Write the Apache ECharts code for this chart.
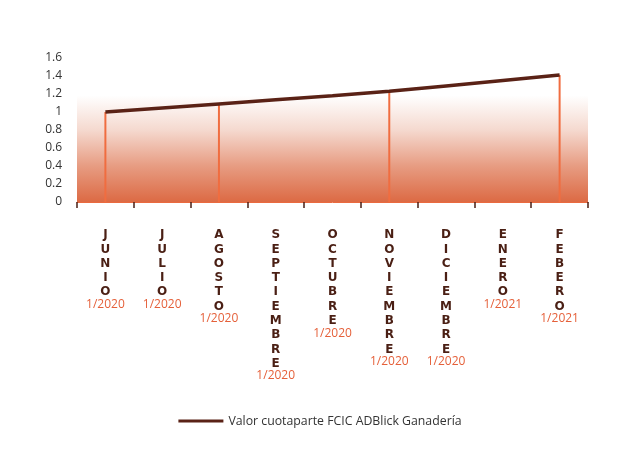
<!DOCTYPE html>
<html>
<head>
<meta charset="utf-8">
<script src="https://cdn.jsdelivr.net/npm/echarts@6/dist/echarts.min.js"></script>
<style>
html,body{margin:0;padding:0;background:#fff;}
#chart{width:640px;height:468px;}
</style>
</head>
<body>
<div id="chart"></div>
<script>
var months = ['JUNIO','JULIO','AGOSTO','SEPTIEMBRE','OCTUBRE','NOVIEMBRE','DICIEMBRE','ENERO','FEBERO'];
var periods = ['1/2020','1/2020','1/2020','1/2020','1/2020','1/2020','1/2020','1/2021','1/2021'];
var values = [1.00, 1.045, 1.09, 1.135, 1.18, 1.23, 1.29, 1.35, 1.41];
var dropCategories = ['JUNIO','AGOSTO','NOVIEMBRE','FEBERO'];
var seriesName = 'Valor cuotaparte FCIC ADBlick Ganadería';

var dropData = months.map(function (m, i) {
  return dropCategories.indexOf(m) >= 0 ? values[i] : null;
});

var chart = echarts.init(document.getElementById('chart'));
chart.setOption({
  animation: false,
  grid: {
    left: 77, right: 52, top: 58, bottom: 266,
    show: true,
    borderWidth: 0,
    backgroundColor: new echarts.graphic.LinearGradient(0, 0, 0, 1, [
      {offset: 0, color: '#ffffff'},
      {offset: 0.26, color: '#ffffff'},
      {offset: 0.5, color: '#f5d9cf'},
      {offset: 0.75, color: '#e79c82'},
      {offset: 1, color: '#dc6a44'}
    ])
  },
  legend: {
    show: true,
    bottom: 36,
    left: 'center',
    itemWidth: 45,
    itemHeight: 3,
    itemGap: 10,
    icon: 'rect',
    data: [seriesName],
    textStyle: {color: '#333', fontSize: 12.3, fontFamily: 'Open Sans'}
  },
  xAxis: {
    type: 'category',
    data: months,
    boundaryGap: true,
    axisLine: {show: true, lineStyle: {color: '#ea6a3f', width: 1}},
    axisTick: {show: true, length: 6, lineStyle: {color: '#4a1f14', width: 1.5}},
    axisLabel: {
      interval: 0,
      margin: 26,
      verticalAlign: 'top',
      formatter: function (value, idx) {
        var letters = value.split('').map(function (c) { return '{m|' + c + '}'; }).join('\n');
        return letters + '\n{d|' + periods[idx] + '}';
      },
      rich: {
        m: {fontSize: 12, fontWeight: 'bold', color: '#4a1f14', lineHeight: 14.3, fontFamily: 'DejaVu Sans', align: 'center'},
        d: {fontSize: 12, color: '#e5603a', lineHeight: 10, fontFamily: 'Open Sans', align: 'center'}
      }
    }
  },
  yAxis: {
    type: 'value',
    min: 0, max: 1.6, interval: 0.2,
    axisLine: {show: false},
    axisTick: {show: false},
    splitLine: {show: false},
    axisLabel: {color: '#333', fontSize: 12, margin: 15, fontFamily: 'Open Sans'}
  },
  series: [
    {
      name: 'drop',
      type: 'bar',
      data: dropData,
      barWidth: 2,
      itemStyle: {color: '#f06d40'},
      z: 1,
      legendHoverLink: false
    },
    {
      name: seriesName,
      type: 'line',
      data: values,
      showSymbol: false,
      symbol: 'none',
      lineStyle: {color: '#5a2216', width: 3.5},
      itemStyle: {color: '#5a2216'},
      z: 3
    }
  ]
});
</script>
</body>
</html>
